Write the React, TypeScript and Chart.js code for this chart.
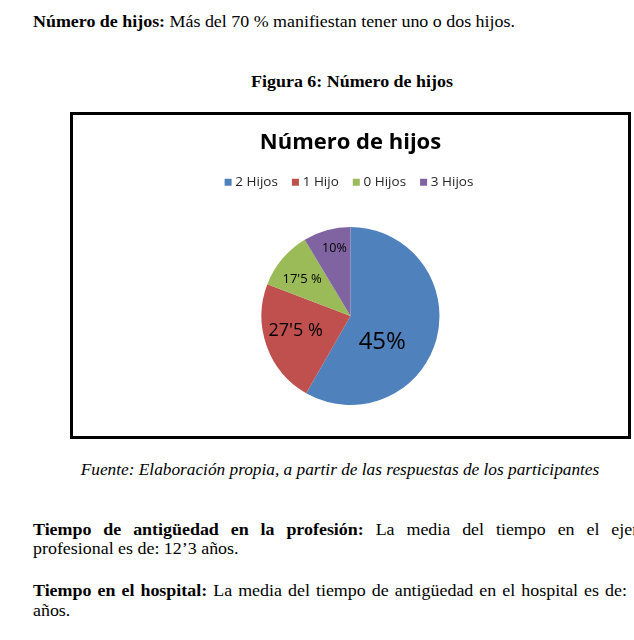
import React, { useEffect, useRef } from "react";
import { Chart, registerables } from "chart.js";

Chart.register(...registerables);

// ---- data ----
const categories = ["2 Hijos", "1 Hijo", "0 Hijos", "3 Hijos"];
const sliceValues = [58.3, 22.5, 10.6, 8.6];
const sliceLabels = ["45%", "27'5 %", "17'5 %", "10%"];
const sliceColors = ["#4F81BD", "#C0504D", "#9BBB59", "#8064A2"];
const chartTitle = "Número de hijos";

// label placement inside each slice: fraction along the arc, fraction of radius, font size
const labelPlacement = [
  { at: 0.615, r: 0.46, size: 24 },
  { at: 0.55, r: 0.64, size: 18 },
  { at: 0.42, r: 0.68, size: 13 },
  { at: 0.57, r: 0.785, size: 12.5 },
];

const CHART_FONT = '"Open Sans", sans-serif';

const sliceLabelPlugin = {
  id: "sliceLabels",
  afterDatasetsDraw(chart: any) {
    const meta = chart.getDatasetMeta(0);
    const ctx = chart.ctx;
    ctx.save();
    meta.data.forEach((arc: any, i: number) => {
      const { x, y, startAngle, endAngle, outerRadius } = arc.getProps(
        ["x", "y", "startAngle", "endAngle", "outerRadius"],
        true
      );
      const p = labelPlacement[i];
      const a = startAngle + (endAngle - startAngle) * p.at;
      const r = outerRadius * p.r;
      ctx.font = `${p.size}px ${CHART_FONT}`;
      ctx.fillStyle = "#000";
      ctx.textAlign = "center";
      ctx.textBaseline = "middle";
      ctx.fillText(sliceLabels[i], x + Math.cos(a) * r, y + Math.sin(a) * r);
    });
    ctx.restore();
  },
};

function PieChart() {
  const ref = useRef<HTMLCanvasElement | null>(null);
  useEffect(() => {
    if (!ref.current) return;
    const chart = new Chart(ref.current, {
      type: "pie",
      data: {
        labels: categories,
        datasets: [
          {
            data: sliceValues,
            backgroundColor: sliceColors,
            borderWidth: 0,
            radius: 89,
          } as any,
        ],
      },
      options: {
        responsive: false,
        animation: false,
        layout: { padding: { top: 0, bottom: 3, left: 0, right: 0 } },
        plugins: {
          title: {
            display: true,
            text: chartTitle,
            color: "#000",
            font: { family: CHART_FONT, size: 22, weight: "bold", lineHeight: 1.2 },
            padding: { top: 14.8, bottom: 2.35 },
          },
          legend: {
            display: true,
            position: "top",
            labels: {
              usePointStyle: true,
              pointStyle: "rect",
              boxWidth: 1,
              boxHeight: 7,
              padding: 17,
              color: "#262626",
              font: { family: CHART_FONT, size: 13.5 },
            },
          },
          tooltip: { enabled: false },
        },
      } as any,
      plugins: [sliceLabelPlugin],
    });
    return () => chart.destroy();
  }, []);
  return <canvas ref={ref} width={555} height={321} style={{ display: "block" }} />;
}

const SX = 1.12;
const serif = '"Liberation Serif", "Times New Roman", serif';

function Line(props: {
  x: number;
  y: number;
  w?: number;
  sx?: number;
  align?: "left" | "center" | "justify";
  italic?: boolean;
  children: React.ReactNode;
}) {
  const { x, y, w, align = "left", italic } = props;
  const sx = props.sx || SX;
  const base: React.CSSProperties = {
    position: "absolute",
    top: y - 10,
    height: 20,
    lineHeight: "20px",
    fontSize: 16,
    fontFamily: serif,
    whiteSpace: "nowrap",
    fontStyle: italic ? "italic" : "normal",
    color: "#000",
  };
  if (align === "center") {
    return (
      <div
        style={{
          ...base,
          left: x - 400,
          width: 800,
          textAlign: "center",
          transform: `scaleX(${sx})`,
          transformOrigin: "50% 50%",
        }}
      >
        {props.children}
      </div>
    );
  }
  if (align === "justify") {
    return (
      <div
        style={{
          ...base,
          left: x,
          width: (w || 500) / sx,
          whiteSpace: "normal",
          textAlign: "justify",
          textAlignLast: "justify" as any,
          transform: `scaleX(${sx})`,
          transformOrigin: "0 50%",
        }}
      >
        {props.children}
      </div>
    );
  }
  return (
    <div style={{ ...base, left: x, transform: `scaleX(${sx})`, transformOrigin: "0 50%" }}>
      {props.children}
    </div>
  );
}

export default function App() {
  return (
    <div
      style={{
        position: "absolute",
        left: 0,
        top: 0,
        width: 634,
        height: 640,
        overflow: "hidden",
        background: "#fff",
      }}
    >
      <Line x={33} y={22}>
        <b>Número de hijos:</b> Más del 70 % manifiestan tener uno o dos hijos.
      </Line>
      <Line x={351.5} y={82} align="center">
        <b>Figura 6: Número de hijos</b>
      </Line>
      <div
        style={{
          position: "absolute",
          left: 70,
          top: 112,
          width: 561,
          height: 327,
          border: "3px solid #000",
          boxSizing: "border-box",
          background: "#fff",
        }}
      >
        <PieChart />
      </div>
      <Line x={339.5} y={470} align="center" italic sx={1.08}>
        Fuente: Elaboración propia, a partir de las respuestas de los participantes
      </Line>
      <Line x={33} y={530} w={640} align="justify">
        <b>Tiempo de antigüedad en la profesión:</b> La media del tiempo en el ejercicio
      </Line>
      <Line x={33} y={549}>
        profesional es de: 12’3 años.
      </Line>
      <Line x={33} y={591} w={594} align="justify">
        <b>Tiempo en el hospital:</b> La media del tiempo de antigüedad en el hospital es de:
      </Line>
      <Line x={33} y={611}>
        años.
      </Line>
    </div>
  );
}
